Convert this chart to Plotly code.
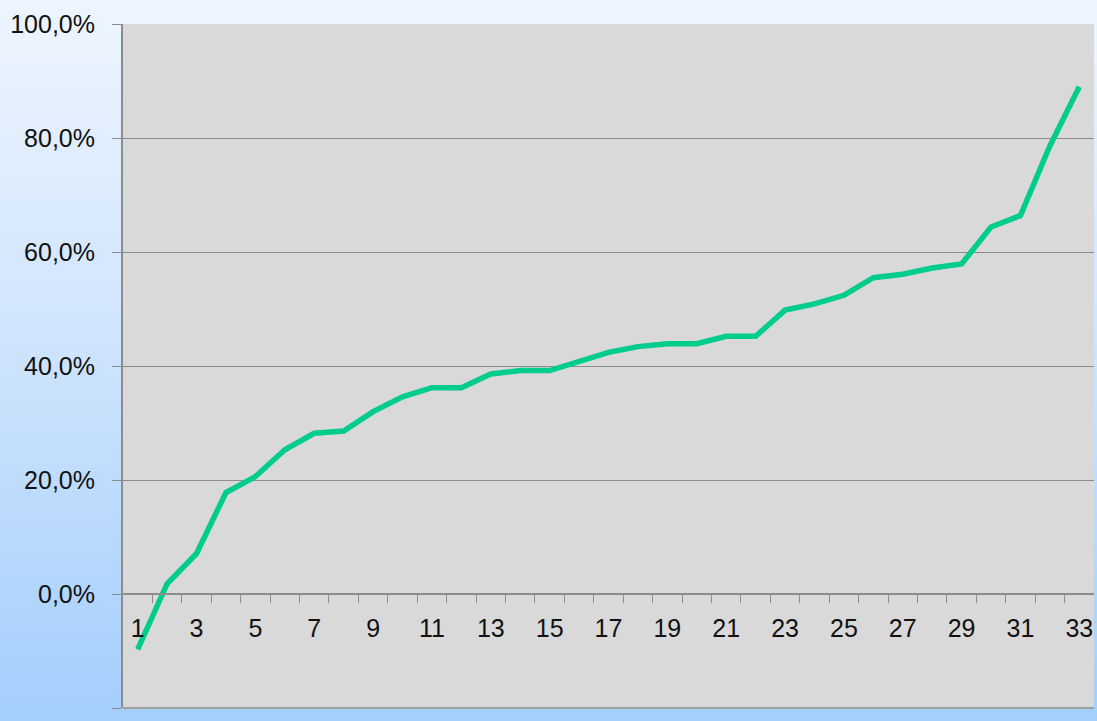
import base64
import plotly.graph_objects as go

categories = list(range(1, 34))
values = [-9.7, 1.8, 7.1, 17.8, 20.6, 25.3, 28.2, 28.6, 32.0, 34.6,
          36.2, 36.2, 38.6, 39.2, 39.2, 40.7, 42.4, 43.4, 43.9, 43.9,
          45.2, 45.2, 49.8, 50.9, 52.4, 55.5, 56.1, 57.2, 57.9, 64.4,
          66.4, 78.6, 89.0]
y_ticks = [-20, 0, 20, 40, 60, 80, 100]
y_tick_text = ["-20,0%", "0,0%", "20,0%", "40,0%", "60,0%", "80,0%", "100,0%"]
x_tick_vals = list(range(1, 34, 2))

W, H = 1097, 721
ML, MR, MT, MB = 123, 3, 24, 13
pw, ph = W - ML - MR, H - MT - MB

svg = ('<svg xmlns="http://www.w3.org/2000/svg" width="100" height="100" preserveAspectRatio="none">'
       '<defs><linearGradient id="g" x1="0" y1="0" x2="0" y2="1">'
       '<stop offset="0" stop-color="#eef5fe"/><stop offset="0.5" stop-color="#cde3fd"/>'
       '<stop offset="1" stop-color="#a3cefc"/></linearGradient></defs>'
       '<rect width="100" height="100" fill="url(#g)"/></svg>')
src = "data:image/svg+xml;base64," + base64.b64encode(svg.encode()).decode()

fig = go.Figure()
fig.add_trace(go.Scatter(x=categories, y=values, mode="lines",
                         line=dict(color="#00cc8e", width=5.5), showlegend=False))

fig.update_layout(
    width=W, height=H,
    margin=dict(l=ML, r=MR, t=MT, b=MB),
    paper_bgcolor="#cde3fd",
    plot_bgcolor="rgba(0,0,0,0)",
    font=dict(family="Liberation Sans, Arial", size=25, color="#111111"),
    images=[dict(source=src, xref="paper", yref="paper",
                 x=-ML / pw, y=1 + MT / ph, sizex=W / pw, sizey=H / ph,
                 sizing="stretch", layer="below", xanchor="left", yanchor="top")],
    shapes=[dict(type="rect", xref="paper", yref="paper", x0=0, x1=1, y0=0, y1=1,
                 fillcolor="#d9d9d9", line=dict(width=0), layer="below"),
            dict(type="line", xref="paper", yref="paper", x0=0, x1=1, y0=0, y1=0,
                 line=dict(color="#a0a0a0", width=2), layer="above")],
    xaxis=dict(range=[0.5, 33.5], tickvals=x_tick_vals, ticktext=[str(v) for v in x_tick_vals],
               ticks="", showgrid=False, zeroline=False, showline=True,
               linecolor="#8c8c8c", linewidth=2, anchor="free", position=1 / 6,
               ticklabelstandoff=12,
               minor=dict(tickvals=[c + 0.5 for c in categories[:-1]], ticks="outside",
                          ticklen=8, tickcolor="#8c8c8c", tickwidth=1, showgrid=False)),
    yaxis=dict(range=[-20, 100], tickvals=y_ticks, ticktext=y_tick_text,
               showgrid=True, gridcolor="#8c8c8c", gridwidth=1, zeroline=False,
               showline=True, linecolor="#8c8c8c", linewidth=2,
               ticks="outside", ticklen=9, tickcolor="#8c8c8c", ticklabelstandoff=12),
)
fig.write_html("out.html", config={"displayModeBar": False})

with open("out.html", encoding="utf-8") as f:
    html = f.read()
html = html.replace("<head>", "<head><style>html,body{margin:0;padding:0;overflow:hidden;}</style>", 1)
with open("out.html", "w", encoding="utf-8") as f:
    f.write(html)
